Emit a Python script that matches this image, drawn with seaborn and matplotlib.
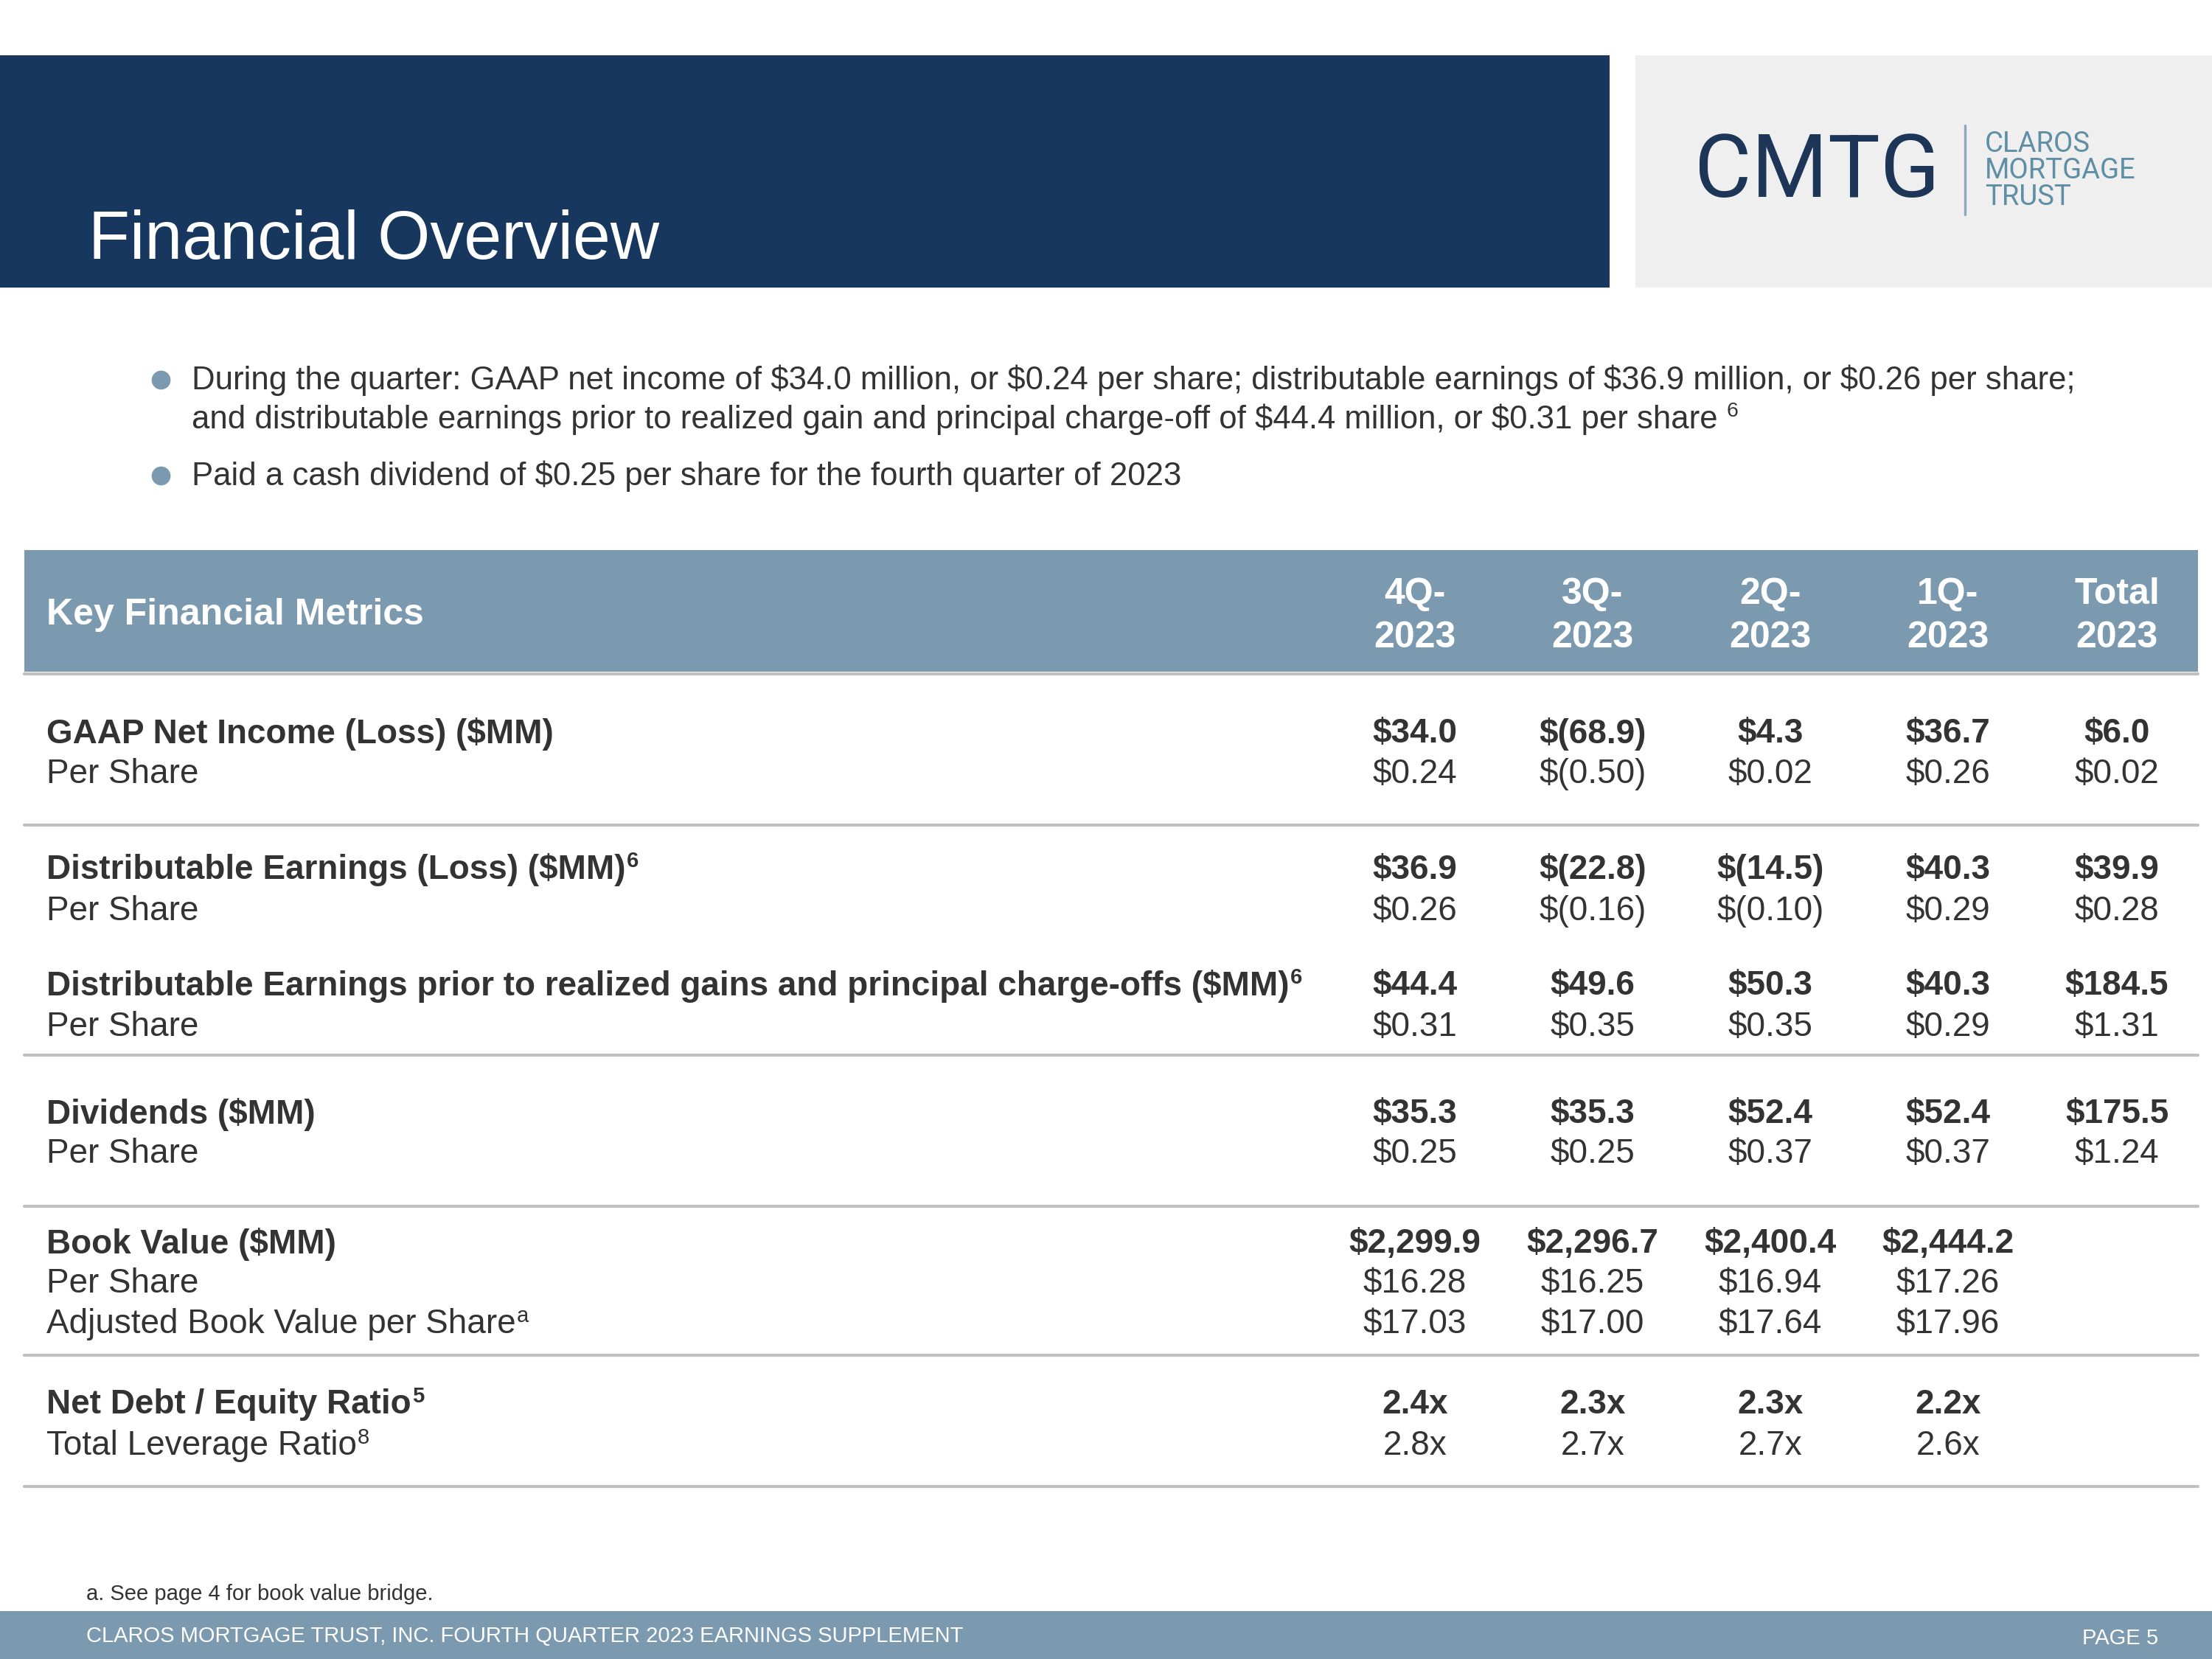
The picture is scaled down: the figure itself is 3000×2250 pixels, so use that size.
import seaborn as sns
import matplotlib.pyplot as plt
from matplotlib.patches import Rectangle

# 数据
col_top = ["4Q-", "3Q-", "2Q-", "1Q-", "Total"]
col_bottom = ["2023", "2023", "2023", "2023", "2023"]

gaap_mm = ["$34.0", "$(68.9)", "$4.3", "$36.7", "$6.0"]
gaap_ps = ["$0.24", "$(0.50)", "$0.02", "$0.26", "$0.02"]
de_mm = ["$36.9", "$(22.8)", "$(14.5)", "$40.3", "$39.9"]
de_ps = ["$0.26", "$(0.16)", "$(0.10)", "$0.29", "$0.28"]
dep_mm = ["$44.4", "$49.6", "$50.3", "$40.3", "$184.5"]
dep_ps = ["$0.31", "$0.35", "$0.35", "$0.29", "$1.31"]
div_mm = ["$35.3", "$35.3", "$52.4", "$52.4", "$175.5"]
div_ps = ["$0.25", "$0.25", "$0.37", "$0.37", "$1.24"]
bv_mm = ["$2,299.9", "$2,296.7", "$2,400.4", "$2,444.2", ""]
bv_ps = ["$16.28", "$16.25", "$16.94", "$17.26", ""]
abv_ps = ["$17.03", "$17.00", "$17.64", "$17.96", ""]
net_debt = ["2.4x", "2.3x", "2.3x", "2.2x", ""]
total_lev = ["2.8x", "2.7x", "2.7x", "2.6x", ""]

bullets = [
    ["During the quarter: GAAP net income of $34.0 million, or $0.24 per share; distributable earnings of $36.9 million, or $0.26 per share;",
     "and distributable earnings prior to realized gain and principal charge-off of $44.4 million, or $0.31 per share"],
    ["Paid a cash dividend of $0.25 per share for the fourth quarter of 2023"],
]

# 行: (标签, 上标, 粗体, 数值, y)
rows = [
    ("GAAP Net Income (Loss) ($MM)", "", True, gaap_mm, 995),
    ("Per Share", "", False, gaap_ps, 1050),
    ("Distributable Earnings (Loss) ($MM)", "6", True, de_mm, 1180),
    ("Per Share", "", False, de_ps, 1236),
    ("Distributable Earnings prior to realized gains and principal charge-offs ($MM)", "6", True, dep_mm, 1337),
    ("Per Share", "", False, dep_ps, 1393),
    ("Dividends ($MM)", "", True, div_mm, 1511),
    ("Per Share", "", False, div_ps, 1565),
    ("Book Value ($MM)", "", True, bv_mm, 1687),
    ("Per Share", "", False, bv_ps, 1741),
    ("Adjusted Book Value per Share", "a", False, abv_ps, 1796),
    ("Net Debt / Equity Ratio", "5", True, net_debt, 1905),
    ("Total Leverage Ratio", "8", False, total_lev, 1961),
]
separators = [1119, 1431, 1636, 1838, 2016]
col_x = [1919, 2160, 2401, 2642, 2871]

NAVY = "#17375e"
STEEL = "#7b9ab0"
TXT = "#333333"

sns.set_theme(style="white")
plt.rcParams['font.family'] = ['Liberation Sans', 'DejaVu Sans']
plt.rcParams['text.parse_math'] = False

fig = plt.figure(figsize=(10, 7.5), dpi=300)
ax = fig.add_axes([0, 0, 1, 1])
ax.set_xlim(0, 3000)
ax.set_ylim(2250, 0)
ax.axis('off')
renderer = fig.canvas.get_renderer()


def sup(t, s, size, color):
    bb = t.get_window_extent(renderer=renderer)
    ax.text(bb.x1 + 1, 2250 - bb.y1 - 3, s, fontsize=size, color=color,
            ha='left', va='top', fontweight=t.get_fontweight())


# 标题栏
ax.add_patch(Rectangle((0, 75), 2183, 315, color=NAVY, lw=0))
ax.text(120, 327, "Financial Overview", color="white", fontsize=22, va='center')
ax.add_patch(Rectangle((2218, 75), 782, 315, color="#efefef", lw=0))
ax.text(2298, 234, "CMTG", color="#1d3557", fontsize=28.5, va='center', ha='left',
        family=['Roboto', 'Liberation Sans'])
ax.plot([2665, 2665], [170, 291], color="#8aa8b8", lw=0.8)
for i, w in enumerate(["CLAROS", "MORTGAGE", "TRUST"]):
    ax.text(2692, 196 + 35.5 * i, w, color="#5f8fa5", fontsize=9.2, va='center',
            family=['Roboto', 'Liberation Sans'])

# 要点
by = [516, 646]
for i, lines in enumerate(bullets):
    ax.scatter([218], [by[i] - 1], s=38, color=STEEL, lw=0)
    for j, line in enumerate(lines):
        t = ax.text(260, by[i] + 53 * j, line, color=TXT, fontsize=10.5, va='center')
    if i == 0:
        bb = t.get_window_extent(renderer=renderer)
        ax.text(bb.x1 + 12, 2250 - bb.y1 - 3, "6", fontsize=6.8, color=TXT,
                ha='left', va='top')

# 表头
ax.add_patch(Rectangle((33, 746), 2948, 165, color=STEEL, lw=0))
ax.plot([33, 2981], [914, 914], color="#c0c0c0", lw=1.0)
ax.text(63, 834, "Key Financial Metrics", color="white", fontsize=12, fontweight='bold', va='center')
for x, a, b in zip(col_x, col_top, col_bottom):
    ax.text(x, 806, a, color="white", fontsize=12, fontweight='bold', ha='center', va='center')
    ax.text(x, 865, b, color="white", fontsize=12, fontweight='bold', ha='center', va='center')

# 表体
for label, s, bold, vals, y in rows:
    fw = 'bold' if bold else 'normal'
    t = ax.text(63, y, label, color=TXT, fontsize=11, fontweight=fw, va='center')
    if s:
        sup(t, s, 7, TXT)
    for x, v in zip(col_x, vals):
        ax.text(x, y, v, color=TXT, fontsize=11, fontweight=fw, ha='center', va='center')
for y in separators:
    ax.plot([33, 2981], [y, y], color="#c0c0c0", lw=1.0)

# 脚注与页脚
ax.text(117, 2162, "a. See page 4 for book value bridge.", color=TXT, fontsize=7, va='center')
ax.add_patch(Rectangle((0, 2185), 3000, 65, color=STEEL, lw=0))
ax.text(117, 2219, "CLAROS MORTGAGE TRUST, INC. FOURTH QUARTER 2023 EARNINGS SUPPLEMENT",
        color="white", fontsize=7, va='center')
ax.text(2927, 2222, "PAGE 5", color="white", fontsize=7, va='center', ha='right')

fig.savefig("out.png", dpi=300)
